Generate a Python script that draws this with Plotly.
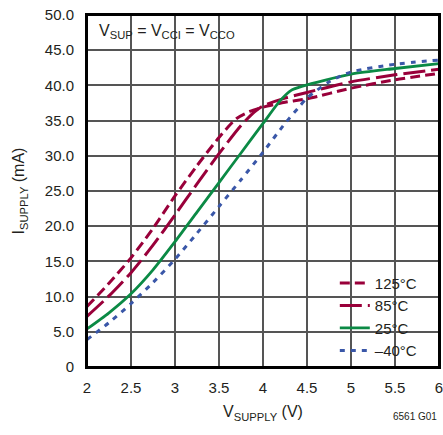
import plotly.graph_objects as go

# supply current vs supply voltage, one curve per temperature
v_125 = [2, 2.25, 2.5, 2.75, 3, 3.25, 3.5, 3.7, 3.85, 4, 4.25, 4.5, 5, 5.5, 6]
i_125 = [8.6, 11.9, 15.5, 19.7, 24.3, 28.6, 32.6, 35.3, 36.3, 36.9, 37.6,
         38.1, 39.6, 40.8, 41.7]

v_85 = [2, 2.25, 2.5, 2.75, 3, 3.25, 3.5, 3.75, 3.9, 4, 4.25, 4.5, 5, 5.5, 6]
i_85 = [7.2, 10.1, 13.4, 17.3, 21.6, 26.0, 30.3, 34.3, 36.2, 37.1, 38.2,
        39.0, 40.5, 41.5, 42.3]

v_25 = [2, 2.25, 2.5, 2.75, 3, 3.25, 3.5, 3.75, 4, 4.2, 4.32, 4.45, 5, 5.5, 6]
i_25 = [5.4, 7.7, 10.4, 13.8, 17.8, 22.0, 26.2, 30.4, 34.6, 37.9, 39.3,
        39.9, 41.6, 42.4, 43.1]

v_m40 = [2, 2.25, 2.5, 2.75, 3, 3.25, 3.5, 3.75, 4, 4.25, 4.4, 4.5, 4.75, 5,
         5.5, 6]
i_m40 = [3.9, 6.3, 9.0, 12.0, 15.3, 19.0, 22.8, 26.6, 30.5, 34.6, 36.8, 38.2,
         40.5, 41.9, 43.0, 43.6]

x_ticks = [2, 2.5, 3, 3.5, 4, 4.5, 5, 5.5, 6]
y_ticks = [0, 5, 10, 15, 20, 25, 30, 35, 40, 45, 50]
y_ticktext = ['0', '5.0', '10.0', '15.0', '20.0', '25.0', '30.0', '35.0',
              '40.0', '45.0', '50.0']

MAROON = '#99003a'
GREEN = '#0b8a45'
BLUE = '#3a57a8'
FONT = 'Liberation Sans, Arial, sans-serif'

series = [
    ('125°C', v_125, i_125, MAROON, '10px,5px', 3),
    ('85°C', v_85, i_85, MAROON, '22px,6px', 3),
    ('25°C', v_25, i_25, GREEN, 'solid', 2.8),
    ('–40°C', v_m40, i_m40, BLUE, '5px,6px', 3),
]

fig = go.Figure()
for name, xs, ys, color, dash, width in series:
  fig.add_trace(go.Scatter(
      x=xs, y=ys, name=name, mode='lines',
      line=dict(color=color, dash=dash, width=width,
                shape='spline', smoothing=0.7)))

fig.update_layout(
    width=443, height=435,
    margin=dict(l=87, r=4, t=15, b=68, autoexpand=False),
    plot_bgcolor='white', paper_bgcolor='white',
    font=dict(family=FONT, size=15, color='#231f20'),
    showlegend=True,
    legend=dict(
        x=0.704, y=0.285, xanchor='left', yanchor='top',
        bgcolor='rgba(0,0,0,0)', font=dict(size=15),
        tracegroupgap=0),
)

fig.update_xaxes(
    range=[2, 6], tickvals=x_ticks, automargin=False,
    ticklabeloverflow='allow',
    showgrid=True, gridcolor='#555555', gridwidth=1.5,
    showline=True, linecolor='black', linewidth=2, mirror=True,
    ticks='outside', ticklen=6, tickcolor='rgba(0,0,0,0)',
    zeroline=False,
    title=dict(text='V<sub>SUPPLY</sub> (V)', font=dict(size=16), standoff=11))
fig.update_yaxes(
    range=[0, 50], tickvals=y_ticks, ticktext=y_ticktext, automargin=False,
    ticklabeloverflow='allow',
    showgrid=True, gridcolor='#555555', gridwidth=1.5,
    showline=True, linecolor='black', linewidth=2, mirror=True,
    ticks='outside', ticklen=8, tickcolor='rgba(0,0,0,0)',
    zeroline=False,
    title=dict(text='I<sub>SUPPLY</sub> (mA)', font=dict(size=16), standoff=16))

# white boxes behind the condition note and the legend (cover the grid)
fig.add_shape(type='rect', xref='paper', yref='paper',
              x0=0.006, x1=0.463, y0=0.903, y1=0.99,
              fillcolor='white', line_width=0, layer='between')
fig.add_shape(type='rect', xref='paper', yref='paper',
              x0=0.662, x1=0.974, y0=0.026, y1=0.267,
              fillcolor='white', line_width=0, layer='between')
# frame round the plot area
fig.add_shape(type='rect', xref='paper', yref='paper',
              x0=0, x1=1, y0=0, y1=1,
              line=dict(color='black', width=2), layer='above')

fig.add_annotation(
    text='V<sub>SUP</sub> = V<sub>CCI</sub> = V<sub>CCO</sub>',
    xref='paper', yref='paper', x=0.028, y=0.952,
    xanchor='left', yanchor='middle', showarrow=False,
    font=dict(size=16))
fig.add_annotation(
    text='6561 G01', xref='paper', yref='paper', x=1.0, y=-0.142,
    xanchor='right', yanchor='middle', showarrow=False,
    font=dict(size=10))

# drop the default page margin so the figure sits at the window's corner
fig.write_html('out.html',
               config={'displayModeBar': False},
               post_script="document.body.style.margin='0';"
                           "document.body.style.overflow='hidden';")
